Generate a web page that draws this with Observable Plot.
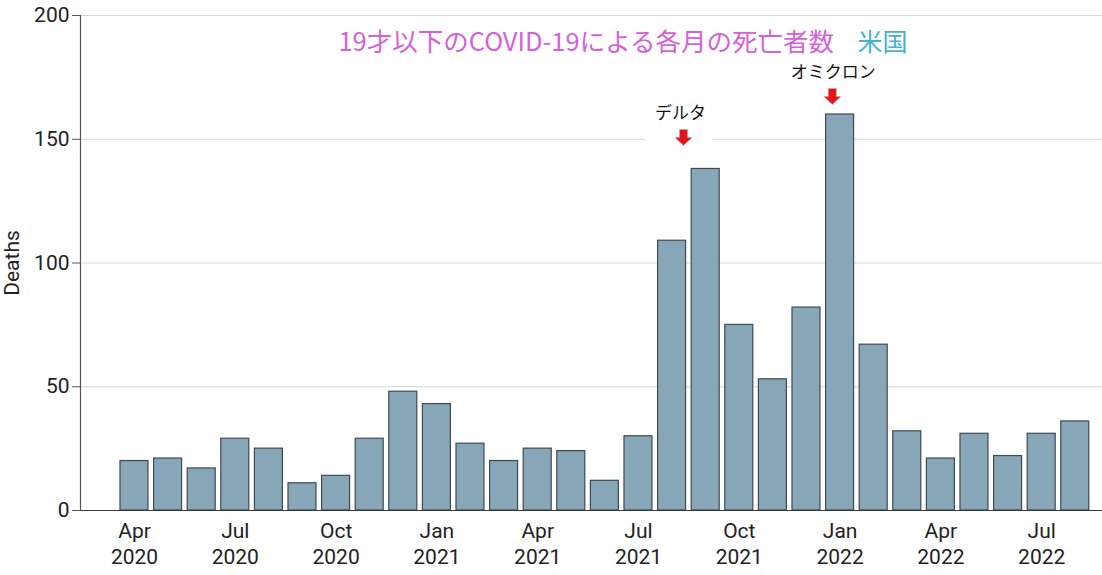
<!DOCTYPE html>
<html><head><meta charset="utf-8">
<script src="https://cdn.jsdelivr.net/npm/d3@7"></script>
<script src="https://cdn.jsdelivr.net/npm/@observablehq/plot@0.6"></script>
<style>body{margin:0;background:#fff;} svg{display:block;}</style>
</head><body><div id="chart"></div>
<script>
const months = ["2020-04","2020-05","2020-06","2020-07","2020-08","2020-09","2020-10","2020-11","2020-12",
  "2021-01","2021-02","2021-03","2021-04","2021-05","2021-06","2021-07","2021-08","2021-09","2021-10","2021-11","2021-12",
  "2022-01","2022-02","2022-03","2022-04","2022-05","2022-06","2022-07","2022-08"];
const deaths = [20,21,17,29,25,11,14,29,48,43,27,20,25,24,12,30,109,138,75,53,82,160,67,32,21,31,22,31,36];
const tickMonths = ["2020-04","2020-07","2020-10","2021-01","2021-04","2021-07","2021-10","2022-01","2022-04","2022-07"];
const tickLabels = ["Apr\n2020","Jul\n2020","Oct\n2020","Jan\n2021","Apr\n2021","Jul\n2021","Oct\n2021","Jan\n2022","Apr\n2022","Jul\n2022"];
const yTicks = [0,50,100,150,200];
const titleMain = "19才以下のCOVID-19による各月の死亡者数";
const titleCountry = "米国";
const variantNames = ["デルタ","オミクロン"];
const variantLabelPos = [16.25, 20.8];   // month-index position
const variantLabelY = [160.4, 177];
const variantArrowPos = [16.34, 20.77];
const variantArrowY = [150.7, 167.3];

const data = months.map((m, i) => ({i, month: m, deaths: deaths[i]}));
const tickIdx = tickMonths.map(m => months.indexOf(m));
const variants = variantNames.map((n, k) => ({name: n, lx: variantLabelPos[k], ly: variantLabelY[k], ax: variantArrowPos[k], ay: variantArrowY[k]}));

const blockArrow = {
  draw(ctx, size) {
    ctx.moveTo(-4, -8); ctx.lineTo(4, -8); ctx.lineTo(4, 0); ctx.lineTo(8.5, 0);
    ctx.lineTo(0, 8); ctx.lineTo(-8.5, 0); ctx.lineTo(-4, 0); ctx.closePath();
  }
};

const chart = Plot.plot({
  width: 1102, height: 575,
  marginLeft: 80, marginRight: 0, marginTop: 15, marginBottom: 65,
  x: {domain: [-1.607, 28.81], axis: null},
  y: {domain: [0, 200]},
  style: {fontFamily: "Roboto, sans-serif", fontSize: "20px", color: "#222", background: "#fff"},
  marks: [
    Plot.gridY(yTicks, {stroke: "#d6d6d6", strokeOpacity: 1}),
    Plot.rect([variants[0]], {x1: d => d.ax - 1.13, x2: d => d.ax + 0.86, y1: d => d.ay - 3.5, y2: d => d.ly + 5, fill: "#fff"}),
    Plot.rectY(data, {x1: d => d.i - 0.5, x2: d => d.i + 0.5, y: "deaths", fill: "#87a6b8", stroke: "#3e4a52", strokeWidth: 1.2, insetLeft: 2.8, insetRight: 2.8}),
    Plot.ruleY([0], {stroke: "#3a3a3a", strokeWidth: 1.2}),
    Plot.frame({anchor: "left", stroke: "#555", strokeWidth: 1.2}),
    Plot.axisY(yTicks, {tickSize: 8, tickPadding: 3, fontSize: 21, stroke: "#555", label: "Deaths", labelAnchor: "center", labelArrow: "none", labelOffset: 76}),
    Plot.axisX(tickIdx, {tickSize: 0, tickPadding: 10, fontSize: 21, lineHeight: 1.2, tickFormat: d => tickLabels[tickIdx.indexOf(d)]}),
    Plot.text([titleMain], {x: 6.07, y: 189, text: d => d, textAnchor: "start", fill: "#d760d8", fontSize: 25.5, fontFamily: "'Noto Sans CJK JP'"}),
    Plot.text([titleCountry], {x: 21.52, y: 189, text: d => d, textAnchor: "start", fill: "#43b3d0", fontSize: 25, fontFamily: "'Noto Sans CJK JP'"}),
    Plot.text(variants, {x: "lx", y: "ly", text: "name", fill: "#111", fontSize: 17, fontFamily: "'Noto Sans CJK JP'"}),
    Plot.dot(variants, {x: "ax", y: "ay", symbol: blockArrow, r: 8, fill: "#e3141b", stroke: "#b0b0b0", strokeWidth: 0.5})
  ]
});
document.getElementById("chart").appendChild(chart);
</script>
</body></html>
